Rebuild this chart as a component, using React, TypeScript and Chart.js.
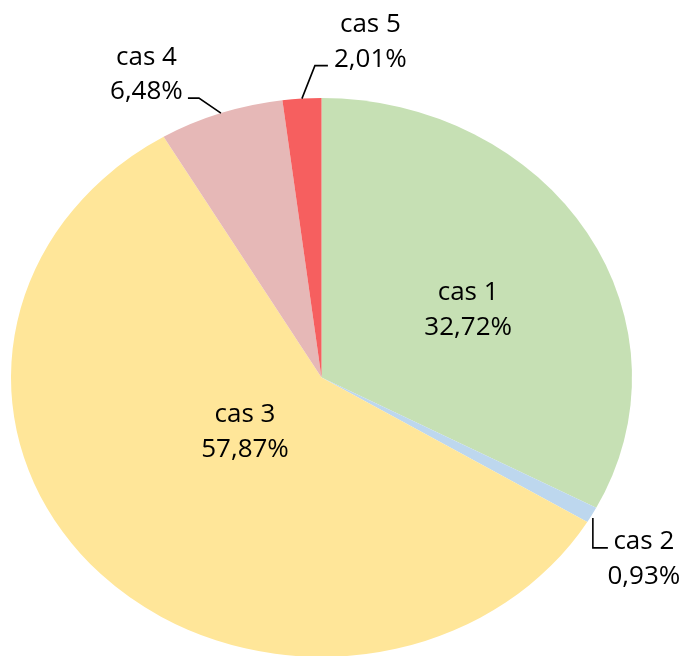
import React, { useEffect, useRef } from "react";
import { Chart, registerables } from "chart.js";

Chart.register(...registerables);

const categories = ["cas 1", "cas 2", "cas 3", "cas 4", "cas 5"];
const percentValues = [32.72, 0.93, 57.87, 6.48, 2.01];
const sliceColors = ["#C6E0B4", "#BDD7EE", "#FFE699", "#E6B8B7", "#F65F5F"];

// label layout (style only): inside labels use polar placement; outside labels use offsets from the slice's outer mid point
const labelLayout = [
  { inside: true, frac: 0.533, dA: 3.5 },
  { inside: false, tx: 52, ty: [34, 69], leader: [[1, 3], [1, 33], [16, 33]] },
  { inside: true, frac: 0.311, dA: 7.1 },
  { inside: false, tx: -74.5, ty: [-48, -14], leader: [[0, 0], [-22, -15], [-33, -15]] },
  { inside: false, tx: 68.5, ty: [-67, -32], leader: [[0, 0], [13, -33], [26, -33]] },
];

const Y_SCALE = 0.9;
const FONT = "26px 'Open Sans', 'Noto Sans', sans-serif";

const fmt = (v: number) => v.toFixed(2).replace(".", ",") + "%";

const squashPlugin = {
  id: "squash",
  beforeDatasetsDraw(chart: any) {
    const arc = chart.getDatasetMeta(0).data[0];
    if (!arc) return;
    const ctx = chart.ctx;
    ctx.save();
    ctx.translate(arc.x, arc.y);
    ctx.scale(1, Y_SCALE);
    ctx.translate(-arc.x, -arc.y);
  },
  afterDatasetsDraw(chart: any) {
    chart.ctx.restore();
  },
};

const labelPlugin = {
  id: "pieLabels",
  afterDraw(chart: any) {
    const ctx = chart.ctx;
    const meta = chart.getDatasetMeta(0);
    ctx.save();
    ctx.font = FONT;
    ctx.fillStyle = "#000000";
    ctx.strokeStyle = "#000000";
    ctx.lineWidth = 1.6;
    ctx.textAlign = "center";
    ctx.textBaseline = "alphabetic";
    meta.data.forEach((arc: any, i: number) => {
      const lay: any = labelLayout[i];
      const mid = (arc.startAngle + arc.endAngle) / 2;
      const r = arc.outerRadius;
      const lines = [categories[i], fmt(percentValues[i])];
      if (lay.inside) {
        const a = mid + (lay.dA * Math.PI) / 180;
        const ax = arc.x + lay.frac * r * Math.cos(a);
        const ay = arc.y + Y_SCALE * lay.frac * r * Math.sin(a);
        ctx.fillText(lines[0], ax, ay - 8.5);
        ctx.fillText(lines[1], ax, ay + 26.5);
      } else {
        const ex = arc.x + r * Math.cos(mid);
        const ey = arc.y + Y_SCALE * r * Math.sin(mid);
        ctx.beginPath();
        lay.leader.forEach((p: number[], k: number) => {
          if (k === 0) ctx.moveTo(ex + p[0], ey + p[1]);
          else ctx.lineTo(ex + p[0], ey + p[1]);
        });
        ctx.stroke();
        ctx.fillText(lines[0], ex + lay.tx, ey + lay.ty[0]);
        ctx.fillText(lines[1], ex + lay.tx, ey + lay.ty[1]);
      }
    });
    ctx.restore();
  },
};

export default function App() {
  const ref = useRef<HTMLCanvasElement | null>(null);
  useEffect(() => {
    if (!ref.current) return;
    const chart = new Chart(ref.current, {
      type: "pie",
      data: {
        labels: categories,
        datasets: [
          {
            data: percentValues,
            backgroundColor: sliceColors,
            borderWidth: 0,
            clip: false as any,
          },
        ],
      },
      options: {
        animation: false,
        responsive: true,
        maintainAspectRatio: false,
        radius: 310.5,
        layout: { padding: { top: 99, bottom: 0, left: 0, right: 43 } },
        plugins: { legend: { display: false }, tooltip: { enabled: false } },
      } as any,
      plugins: [squashPlugin, labelPlugin],
    });
    return () => chart.destroy();
  }, []);
  return (
    <div style={{ position: "fixed", left: 0, top: 0, width: 686, height: 656, background: "#ffffff", overflow: "hidden" }}>
      <canvas ref={ref} />
    </div>
  );
}
